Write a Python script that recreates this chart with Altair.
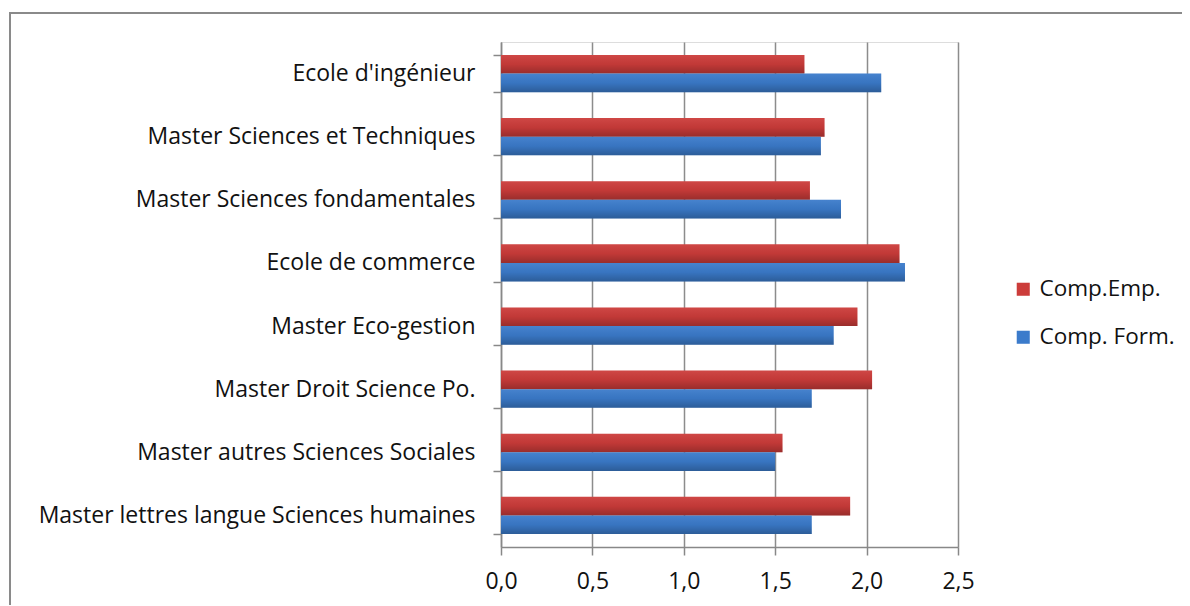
import altair as alt
import pandas as pd

categories = [
    "Ecole d'ingénieur",
    "Master Sciences et Techniques",
    "Master Sciences fondamentales",
    "Ecole de commerce",
    "Master Eco-gestion",
    "Master Droit Science Po.",
    "Master autres Sciences Sociales",
    "Master lettres langue Sciences humaines",
]
series = ["Comp.Emp.", "Comp. Form."]
comp_emp = [1.66, 1.77, 1.69, 2.18, 1.95, 2.03, 1.54, 1.91]
comp_form = [2.08, 1.75, 1.86, 2.21, 1.82, 1.70, 1.50, 1.70]
colors = ["#cc3c3a", "#3b7bcb"]

rows = []
for c, e, f in zip(categories, comp_emp, comp_form):
    rows.append({"cat": c, "serie": series[0], "val": e})
    rows.append({"cat": c, "serie": series[1], "val": f})
df = pd.DataFrame(rows)

FONT = "Open Sans"
FS = 23
W, H = 457, 505

y_enc = alt.Y("cat:N", sort=categories, title=None,
              scale=alt.Scale(paddingInner=0.41, paddingOuter=0.205),
              axis=alt.Axis(tickBand="extent", grid=False, domainColor="#888888",
                            tickColor="#888888", tickSize=8, domainWidth=1.5, tickWidth=1.5,
                            labelFont=FONT, labelFontSize=FS, labelColor="#111111",
                            labelPadding=18, labelLimit=700))
x_enc = alt.X("val:Q", title=None,
              scale=alt.Scale(domain=[0, 2.5], nice=False),
              axis=alt.Axis(values=[0, 0.5, 1.0, 1.5, 2.0, 2.5],
                            labelExpr="replace(format(datum.value, '.1f'), '.', ',')",
                            grid=True, gridColor="#8c8c8c", gridWidth=1.5,
                            domainColor="#888888", domainWidth=1.5,
                            tickColor="#888888", tickSize=8, tickWidth=1.5,
                            labelFont=FONT, labelFontSize=FS, labelColor="#111111",
                            labelFlush=False, labelPadding=15))
yoff = alt.YOffset("serie:N", sort=series)

bars = alt.Chart(df).mark_bar().encode(
    y=y_enc, x=x_enc, yOffset=yoff,
    color=alt.Color("serie:N", sort=series,
                    scale=alt.Scale(domain=series, range=colors),
                    legend=alt.Legend(title=None, orient="none", legendX=511, legendY=236,
                                      symbolType="square", symbolSize=170,
                                      symbolStrokeWidth=0, labelFont=FONT,
                                      labelFontSize=22.5, labelColor="#111111",
                                      rowPadding=25, labelOffset=5)),
)

shade = alt.Chart(df).mark_bar(
    fill=alt.Gradient(gradient="linear", x1=0, y1=0, x2=0, y2=1,
                      stops=[alt.GradientStop(color="rgba(255,255,255,0.06)", offset=0),
                             alt.GradientStop(color="rgba(0,0,0,0.05)", offset=0.5),
                             alt.GradientStop(color="rgba(0,0,0,0.25)", offset=1)])
).encode(y=y_enc, x=x_enc, yOffset=yoff)

frame = alt.Chart(df).mark_rect(fill="transparent", stroke="#8a8a8a", strokeWidth=1.5).encode(
    x=alt.value(10 - 501), x2=alt.value(1300 - 501),
    y=alt.value(13 - 42), y2=alt.value(640 - 42),
)

chart = alt.layer(frame, bars, shade).properties(
    width=W, height=H,
    autosize=alt.AutoSizeParams(type="none"),
    padding={"left": 493, "top": 34, "right": 224, "bottom": 58},
).configure_view(stroke=None).configure(background="white")

chart.save("out.html", embed_options={"renderer": "svg", "actions": False})
